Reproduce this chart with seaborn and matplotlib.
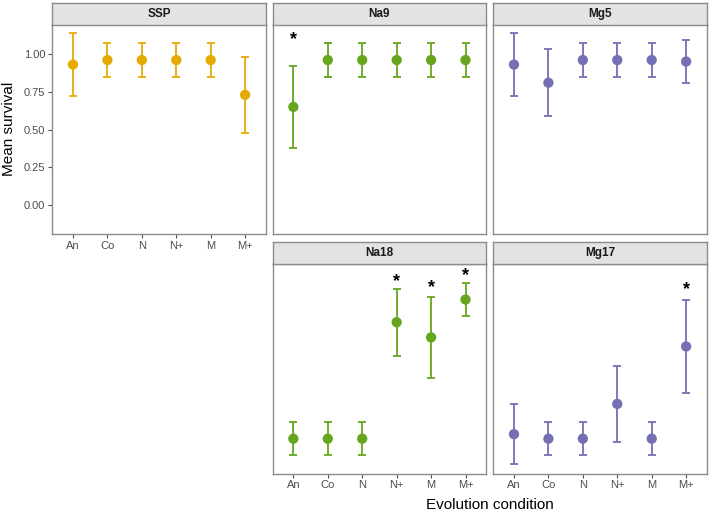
import numpy as np
import pandas as pd
import seaborn as sns
import matplotlib.pyplot as plt

# ------------------------------------------------------------
# Data: mean survival +/- error per condition
# ------------------------------------------------------------
conditions = ["An", "Co", "N", "N+", "M", "M+"]
panels = ["SSP", "Na9", "Mg5", "Na18", "Mg17"]

ssp_mean = [0.93, 0.96, 0.96, 0.96, 0.96, 0.73]
ssp_err = [0.21, 0.11, 0.11, 0.11, 0.11, 0.25]

na9_mean = [0.65, 0.96, 0.96, 0.96, 0.96, 0.96]
na9_err = [0.27, 0.11, 0.11, 0.11, 0.11, 0.11]

mg5_mean = [0.93, 0.81, 0.96, 0.96, 0.96, 0.95]
mg5_err = [0.21, 0.22, 0.11, 0.11, 0.11, 0.14]

na18_mean = [0.04, 0.04, 0.04, 0.81, 0.71, 0.96]
na18_err = [0.11, 0.11, 0.11, 0.22, 0.27, 0.11]

mg17_mean = [0.07, 0.04, 0.04, 0.27, 0.04, 0.65]
mg17_err = [0.20, 0.11, 0.11, 0.25, 0.11, 0.31]

# significance stars: (panel, condition, height of star)
star_panel = ["Na9", "Na18", "Na18", "Na18", "Mg17"]
star_cond = ["An", "N+", "M", "M+", "M+"]
star_y = [1.11, 1.09, 1.05, 1.13, 1.04]

colors = {"SSP": "#E6AB02", "Na9": "#66A61E", "Na18": "#66A61E",
          "Mg5": "#7570B3", "Mg17": "#7570B3"}

means = [ssp_mean, na9_mean, mg5_mean, na18_mean, mg17_mean]
errs = [ssp_err, na9_err, mg5_err, na18_err, mg17_err]

rows = []
for p, m, e in zip(panels, means, errs):
    for c, mv, ev in zip(conditions, m, e):
        rows.append({"panel": p, "condition": c, "mean": mv, "err": ev})
df = pd.DataFrame(rows)
xpos = {c: i for i, c in enumerate(conditions)}
df["x"] = df["condition"].map(xpos)

# ------------------------------------------------------------
# Layout (ggplot facet look, bottom-left slot empty)
# ------------------------------------------------------------
sns.set_theme(style="white")
plt.rcParams["font.family"] = ["Liberation Sans", "DejaVu Sans"]

W, H = 709, 514
fig = plt.figure(figsize=(W / 100, H / 100), dpi=100)

lefts = [52.3, 272.7, 493.3]
pw = 213.5
tops = [24.5, 264.0]
ph = 209.5
strip_h = 21.8
border = "#8C8C8C"

slots = {"SSP": (0, 0), "Na9": (0, 1), "Mg5": (0, 2), "Na18": (1, 1), "Mg17": (1, 2)}

for p in panels:
    r, c = slots[p]
    x0 = lefts[c]
    y0 = tops[r]
    ax = fig.add_axes([x0 / W, 1 - (y0 + ph) / H, pw / W, ph / H])
    sub = df[df["panel"] == p]
    col = colors[p]

    ax.errorbar(sub["x"], sub["mean"], yerr=sub["err"], fmt="none",
                ecolor=col, elinewidth=1.3, capsize=3, capthick=1.3, zorder=2)
    sns.scatterplot(data=sub, x="x", y="mean", ax=ax, color=col, s=55,
                    edgecolor="none", linewidth=0, zorder=3, legend=False)

    for sp, sc, sy in zip(star_panel, star_cond, star_y):
        if sp == p:
            ax.text(xpos[sc], sy, "*", ha="center", va="center_baseline",
                    fontsize=13, fontweight="bold", color="black",
                    clip_on=False)

    ax.set_xlim(-0.6, 5.6)
    ax.set_ylim(-0.19, 1.195)
    ax.set_xlabel("")
    ax.set_ylabel("")
    for s in ax.spines.values():
        s.set_color(border)
        s.set_linewidth(1.0)
    ax.tick_params(axis="both", length=3, width=0.8, color="#555555",
                   labelcolor="#4D4D4D", labelsize=8, pad=2,
                   bottom=False, left=False)

    show_x = (r == 1) or (p == "SSP")
    if show_x:
        ax.set_xticks(range(len(conditions)))
        ax.set_xticklabels(conditions)
        ax.tick_params(axis="x", bottom=True)
    else:
        ax.set_xticks([])
    if c == 0:
        ax.set_yticks([0, 0.25, 0.5, 0.75, 1.0])
        ax.set_yticklabels(["0.00", "0.25", "0.50", "0.75", "1.00"])
        ax.tick_params(axis="y", left=True)
        ax.set_ylabel("Mean survival", fontsize=11, color="black", labelpad=6)
    else:
        ax.set_yticks([])

    # strip on top
    sax = fig.add_axes([x0 / W, 1 - y0 / H, pw / W, strip_h / H])
    sax.set_facecolor("#E3E3E3")
    sax.set_xticks([])
    sax.set_yticks([])
    for s in sax.spines.values():
        s.set_color(border)
        s.set_linewidth(1.0)
    sax.text(0.5, 0.5, p, ha="center", va="center", fontsize=8.5,
             fontweight="bold", color="#1A1A1A", transform=sax.transAxes)

fig.text(490 / W, 1 - 505 / H, "Evolution condition", ha="center",
         va="center", fontsize=11, color="black")

fig.savefig("out.png", dpi=100)
